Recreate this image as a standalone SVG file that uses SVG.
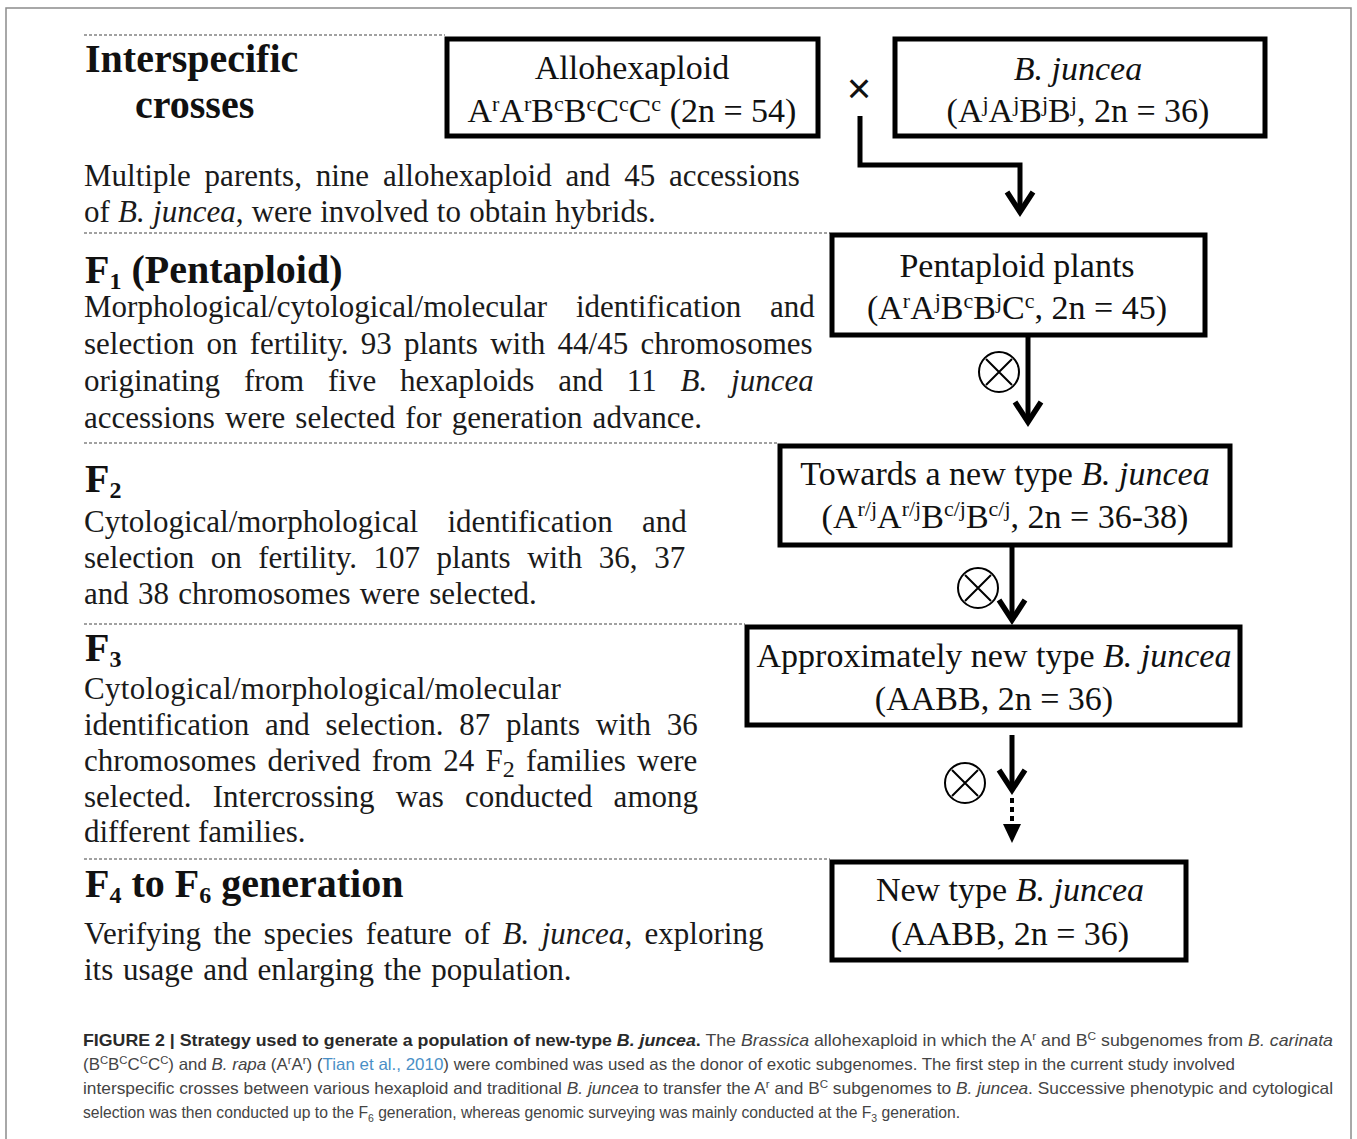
<svg xmlns="http://www.w3.org/2000/svg" width="1357" height="1139" viewBox="0 0 1357 1139">
<style>
.bg{fill:#fff}
.frame{fill:none;stroke:#8c8c8c;stroke-width:1.5}
.sep{stroke:#444;stroke-width:1.2;stroke-dasharray:3 2;fill:none}
.box{fill:#fff;stroke:#000;stroke-width:5}
.bx{font-family:"Liberation Serif","Times New Roman",serif;font-size:34px;fill:#111}
.hd{font-family:"Liberation Serif","Times New Roman",serif;font-size:40px;font-weight:bold;fill:#111}
.tx{font-family:"Liberation Serif","Times New Roman",serif;font-size:31px;fill:#1a1a1a}
.sp{font-size:22px}
.sb{font-size:24px}
.it{font-style:italic}
.cap{font-family:"Liberation Sans",Arial,sans-serif;font-size:16.5px;fill:#444}
.capb{font-weight:bold;fill:#2a2a2a}
.link{fill:#4a8fc6}
.csp{font-size:11px}
.conn{fill:none;stroke:#000;stroke-width:5}
.dot{fill:none;stroke:#000;stroke-width:4;stroke-dasharray:5 4}
.ot{fill:none;stroke:#000;stroke-width:2}
</style>
<defs>
<marker id="chev" markerUnits="userSpaceOnUse" markerWidth="40" markerHeight="40" refX="20" refY="20" orient="auto" overflow="visible" viewBox="0 0 40 40">
<path d="M0,7 L20,20 L0,33" fill="none" stroke="#000" stroke-width="5.5"/>
</marker>
<marker id="tri" markerUnits="userSpaceOnUse" markerWidth="24" markerHeight="24" refX="19" refY="12" orient="auto" overflow="visible" viewBox="0 0 24 24">
<path d="M0,3 L19,12 L0,21 Z" fill="#000"/>
</marker>
<g id="otimes">
<circle cx="0" cy="0" r="20" class="ot"/>
<path d="M-13,-13 L13,13 M13,-13 L-13,13" class="ot"/>
</g>
</defs>
<rect class="bg" x="0" y="0" width="1357" height="1139"/>
<rect class="frame" x="6" y="8" width="1345" height="1160"/>

<g id="separators">
<line class="sep" x1="84" y1="35" x2="445" y2="35"/>
<line class="sep" x1="84" y1="233" x2="830" y2="233"/>
<line class="sep" x1="84" y1="443" x2="778" y2="443"/>
<line class="sep" x1="84" y1="624" x2="745" y2="624"/>
<line class="sep" x1="84" y1="859" x2="830" y2="859"/>
</g>

<g id="sec-interspecific">
<text class="hd" x="85" y="72">Interspecific</text>
<text class="hd" x="135" y="118">crosses</text>
<text class="tx" x="84" y="186" word-spacing="6.1">Multiple parents, nine allohexaploid and 45 accessions</text>
<text class="tx" x="84" y="222" word-spacing="0.5">of <tspan class="it">B. juncea</tspan>, were involved to obtain hybrids.</text>
</g>

<g id="sec-f1">
<text class="hd" x="85" y="283">F<tspan class="sb" dy="6">1</tspan><tspan dy="-6"> (Pentaploid)</tspan></text>
<text class="tx" x="84" y="317" word-spacing="21">Morphological/cytological/molecular identification and</text>
<text class="tx" x="84" y="354" word-spacing="4.5">selection on fertility. 93 plants with 44/45 chromosomes</text>
<text class="tx" x="84" y="391" word-spacing="16.1">originating from five hexaploids and 11 <tspan class="it">B. juncea</tspan></text>
<text class="tx" x="84" y="428" word-spacing="2.4">accessions were selected for generation advance.</text>
</g>

<g id="sec-f2">
<text class="hd" x="85" y="492">F<tspan class="sb" dy="6">2</tspan></text>
<text class="tx" x="84" y="532" word-spacing="21.6">Cytological/morphological identification and</text>
<text class="tx" x="84" y="568" word-spacing="8.8">selection on fertility. 107 plants with 36, 37</text>
<text class="tx" x="84" y="604" word-spacing="1.5">and 38 chromosomes were selected.</text>
</g>

<g id="sec-f3">
<text class="hd" x="85" y="661">F<tspan class="sb" dy="6">3</tspan></text>
<text class="tx" x="84" y="699" letter-spacing="0.3">Cytological/morphological/molecular</text>
<text class="tx" x="84" y="735" word-spacing="8">identification and selection. 87 plants with 36</text>
<text class="tx" x="84" y="771" word-spacing="3.5">chromosomes derived from 24 F<tspan class="sb" dy="6">2</tspan><tspan dy="-6"> families were</tspan></text>
<text class="tx" x="84" y="807" word-spacing="13.4">selected. Intercrossing was conducted among</text>
<text class="tx" x="84" y="842">different families.</text>
</g>

<g id="sec-f4">
<text class="hd" x="85" y="897">F<tspan class="sb" dy="6">4</tspan><tspan dy="-6"> to F</tspan><tspan class="sb" dy="6">6</tspan><tspan dy="-6"> generation</tspan></text>
<text class="tx" x="84" y="944" word-spacing="4.7">Verifying the species feature of <tspan class="it">B. juncea</tspan>, exploring</text>
<text class="tx" x="84" y="980" word-spacing="1.9">its usage and enlarging the population.</text>
</g>

<g id="node-allohexaploid">
<rect class="box" x="447" y="39" width="371" height="97"/>
<text class="bx" x="632" y="79" text-anchor="middle">Allohexaploid</text>
<text class="bx" x="632" y="122" text-anchor="middle">A<tspan class="sp" dy="-11">r</tspan><tspan dy="11">A</tspan><tspan class="sp" dy="-11">r</tspan><tspan dy="11">B</tspan><tspan class="sp" dy="-11">c</tspan><tspan dy="11">B</tspan><tspan class="sp" dy="-11">c</tspan><tspan dy="11">C</tspan><tspan class="sp" dy="-11">c</tspan><tspan dy="11">C</tspan><tspan class="sp" dy="-11">c</tspan><tspan dy="11"> (2n = 54)</tspan></text>
</g>

<g id="node-juncea">
<rect class="box" x="895" y="39" width="370" height="97"/>
<text class="bx it" x="1078" y="80" text-anchor="middle">B. juncea</text>
<text class="bx" x="1078" y="122" text-anchor="middle">(A<tspan class="sp" dy="-11">j</tspan><tspan dy="11">A</tspan><tspan class="sp" dy="-11">j</tspan><tspan dy="11">B</tspan><tspan class="sp" dy="-11">j</tspan><tspan dy="11">B</tspan><tspan class="sp" dy="-11">j</tspan><tspan dy="11">, 2n = 36)</tspan></text>
</g>

<g id="node-pentaploid">
<rect class="box" x="832" y="235" width="373" height="100"/>
<text class="bx" x="1017" y="277" text-anchor="middle">Pentaploid plants</text>
<text class="bx" x="1017" y="319" text-anchor="middle">(A<tspan class="sp" dy="-11">r</tspan><tspan dy="11">A</tspan><tspan class="sp" dy="-11">j</tspan><tspan dy="11">B</tspan><tspan class="sp" dy="-11">c</tspan><tspan dy="11">B</tspan><tspan class="sp" dy="-11">j</tspan><tspan dy="11">C</tspan><tspan class="sp" dy="-11">c</tspan><tspan dy="11">, 2n = 45)</tspan></text>
</g>

<g id="node-towards">
<rect class="box" x="780" y="446" width="450" height="99"/>
<text class="bx" x="1005" y="485" text-anchor="middle">Towards a new type <tspan class="it">B. juncea</tspan></text>
<text class="bx" x="1005" y="528" text-anchor="middle">(A<tspan class="sp" dy="-12">r/j</tspan><tspan dy="12">A</tspan><tspan class="sp" dy="-12">r/j</tspan><tspan dy="12">B</tspan><tspan class="sp" dy="-12">c/j</tspan><tspan dy="12">B</tspan><tspan class="sp" dy="-12">c/j</tspan><tspan dy="12">,  2n = 36-38)</tspan></text>
</g>

<g id="node-approx">
<rect class="box" x="747" y="627" width="493" height="98"/>
<text class="bx" x="994" y="667" text-anchor="middle">Approximately new type <tspan class="it">B. juncea</tspan></text>
<text class="bx" x="994" y="710" text-anchor="middle">(AABB, 2n = 36)</text>
</g>

<g id="node-newtype">
<rect class="box" x="832" y="862" width="354" height="98"/>
<text class="bx" x="1010" y="901" text-anchor="middle">New type <tspan class="it">B. juncea</tspan></text>
<text class="bx" x="1010" y="945" text-anchor="middle">(AABB, 2n = 36)</text>
</g>

<g id="connectors">
<text x="859" y="103" text-anchor="middle" font-family="Liberation Sans,Arial,sans-serif" font-size="42" fill="#111">×</text>
<path class="conn" d="M860,116 L860,165 L1020,165 L1020,212" marker-end="url(#chev)"/>
<path class="conn" d="M1028,337 L1028,422" marker-end="url(#chev)"/>
<use href="#otimes" x="999" y="372"/>
<path class="conn" d="M1012,547 L1012,620" marker-end="url(#chev)"/>
<use href="#otimes" x="978" y="588"/>
<path class="conn" d="M1012,735 L1012,790" marker-end="url(#chev)"/>
<path class="dot" d="M1012,798 L1012,843" marker-end="url(#tri)"/>
<use href="#otimes" x="965" y="783"/>
</g>

<g id="caption">
<text class="cap" x="83" y="1046" textLength="1250" lengthAdjust="spacingAndGlyphs"><tspan class="capb">FIGURE 2 | Strategy used to generate a population of new-type <tspan class="it">B. juncea</tspan>.</tspan> The <tspan class="it">Brassica</tspan> allohexaploid in which the A<tspan class="csp" dy="-6">r</tspan><tspan dy="6"> and B</tspan><tspan class="csp" dy="-6">C</tspan><tspan dy="6"> subgenomes from </tspan><tspan class="it">B. carinata</tspan></text>
<text class="cap" x="83" y="1070" textLength="1152" lengthAdjust="spacingAndGlyphs">(B<tspan class="csp" dy="-6">C</tspan><tspan dy="6">B</tspan><tspan class="csp" dy="-6">C</tspan><tspan dy="6">C</tspan><tspan class="csp" dy="-6">C</tspan><tspan dy="6">C</tspan><tspan class="csp" dy="-6">C</tspan><tspan dy="6">) and </tspan><tspan class="it">B. rapa</tspan> (A<tspan class="csp" dy="-6">r</tspan><tspan dy="6">A</tspan><tspan class="csp" dy="-6">r</tspan><tspan dy="6">) (</tspan><tspan class="link">Tian et al., 2010</tspan>) were combined was used as the donor of exotic subgenomes. The first step in the current study involved</text>
<text class="cap" x="83" y="1094" textLength="1250" lengthAdjust="spacingAndGlyphs">interspecific crosses between various hexaploid and traditional <tspan class="it">B. juncea</tspan> to transfer the A<tspan class="csp" dy="-6">r</tspan><tspan dy="6"> and B</tspan><tspan class="csp" dy="-6">C</tspan><tspan dy="6"> subgenomes to </tspan><tspan class="it">B. juncea</tspan>. Successive phenotypic and cytological</text>
<text class="cap" x="83" y="1118" textLength="877" lengthAdjust="spacingAndGlyphs">selection was then conducted up to the F<tspan class="csp" dy="4">6</tspan><tspan dy="-4"> generation, whereas genomic surveying was mainly conducted at the F</tspan><tspan class="csp" dy="4">3</tspan><tspan dy="-4"> generation.</tspan></text>
</g>
</svg>
